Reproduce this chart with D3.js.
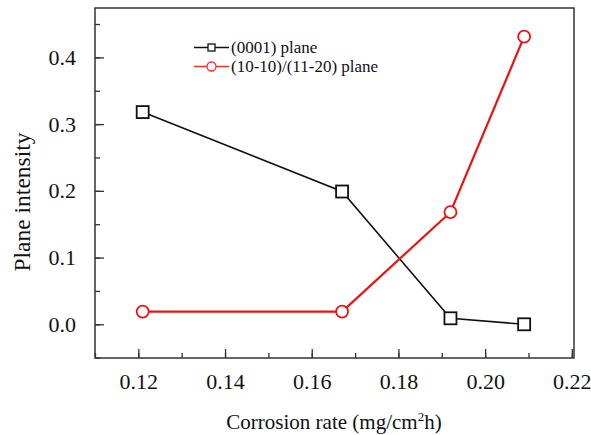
<!DOCTYPE html>
<html><head><meta charset="utf-8">
<script src="https://cdn.jsdelivr.net/npm/d3@7"></script>
<style>body{margin:0;background:#fff}svg{display:block}</style>
</head><body>
<script>
const xRate = [0.121, 0.167, 0.192, 0.209];
const plane0001 = [0.318, 0.199, 0.009, 0.0];
const plane1010 = [0.019, 0.019, 0.168, 0.431];
const xTicks = [0.12, 0.14, 0.16, 0.18, 0.20, 0.22];
const yTicks = [0.0, 0.1, 0.2, 0.3, 0.4];
const seriesNames = ["(0001) plane", "(10-10)/(11-20) plane"];

const FONT = "Liberation Serif, Times New Roman, serif";
const W = 591, H = 435;
const L = 95, T = 8, R = 574, B = 358;
const svg = d3.select("body").append("svg").attr("width", W).attr("height", H)
  .attr("font-family", FONT).attr("fill", "#111");
const x = d3.scaleLinear().domain([0.11, 0.2205]).range([L, R]);
const y = d3.scaleLinear().domain([-0.0505, 0.474]).range([B, T]);

svg.append("rect").attr("x", L).attr("y", T).attr("width", R - L).attr("height", B - T)
  .attr("fill", "none").attr("stroke", "#333").attr("stroke-width", 1.5);

const xMinor = d3.range(0.11, 0.2201, 0.01).map(v => +v.toFixed(3));
const xAx = svg.append("g").attr("transform", `translate(0,${B})`)
  .call(d3.axisBottom(x).tickValues(xMinor).tickSize(-5).tickFormat(""));
xAx.select(".domain").remove();
const xAx2 = svg.append("g").attr("transform", `translate(0,${B})`)
  .call(d3.axisBottom(x).tickValues(xTicks).tickSize(-9).tickPadding(15).tickFormat(d3.format(".2f")))
  .attr("font-family", FONT).attr("font-size", 22);
xAx2.select(".domain").remove();
xAx2.selectAll("text").attr("fill", "#111");

const yMinor = d3.range(-0.05, 0.4501, 0.05).map(v => +v.toFixed(3));
const yAx = svg.append("g").attr("transform", `translate(${L},0)`)
  .call(d3.axisLeft(y).tickValues(yMinor).tickSize(-5).tickFormat(""));
yAx.select(".domain").remove();
const yAx2 = svg.append("g").attr("transform", `translate(${L},0)`)
  .call(d3.axisLeft(y).tickValues(yTicks).tickSize(-9).tickPadding(19).tickFormat(d3.format(".1f")))
  .attr("font-family", FONT).attr("font-size", 22);
yAx2.select(".domain").remove();
yAx2.selectAll("text").attr("fill", "#111");
svg.selectAll(".tick line").attr("stroke", "#333").attr("stroke-width", 1.3);

const xt = svg.append("text").attr("x", 334).attr("y", 429).attr("text-anchor", "middle").attr("font-size", 21);
xt.append("tspan").text("Corrosion rate (mg/cm");
xt.append("tspan").text("2").attr("font-size", 13).attr("dy", -8);
xt.append("tspan").text("h)").attr("dy", 8);
svg.append("text").attr("transform", "translate(30,202) rotate(-90)").attr("text-anchor", "middle")
  .attr("font-size", 23.5).text("Plane intensity");

const pts0 = xRate.map((v, i) => [v, plane0001[i]]);
const pts1 = xRate.map((v, i) => [v, plane1010[i]]);
const line = d3.line().x(d => x(d[0])).y(d => y(d[1]));

svg.append("path").datum(pts0).attr("d", line).attr("fill", "none").attr("stroke", "#111").attr("stroke-width", 1.6);
svg.append("path").datum(pts1).attr("d", line).attr("fill", "none").attr("stroke", "#ee1111").attr("stroke-width", 2.2);

const s = 12;
svg.selectAll(".sq").data(pts0).enter().append("rect")
  .attr("x", d => x(d[0]) - s / 2).attr("y", d => y(d[1]) - s / 2).attr("width", s).attr("height", s)
  .attr("fill", "#fff").attr("stroke", "#111").attr("stroke-width", 1.8);
svg.selectAll(".ci").data(pts1).enter().append("circle")
  .attr("cx", d => x(d[0])).attr("cy", d => y(d[1])).attr("r", 6)
  .attr("fill", "#fff").attr("stroke", "#ee1111").attr("stroke-width", 1.8);

const lg = svg.append("g");
const ly = [47.5, 66.5];
lg.append("line").attr("x1", 194).attr("x2", 229).attr("y1", ly[0]).attr("y2", ly[0]).attr("stroke", "#111").attr("stroke-width", 1.4);
lg.append("rect").attr("x", 208).attr("y", ly[0] - 3.5).attr("width", 7).attr("height", 7).attr("fill", "#fff").attr("stroke", "#111").attr("stroke-width", 1.3);
lg.append("line").attr("x1", 194).attr("x2", 229).attr("y1", ly[1]).attr("y2", ly[1]).attr("stroke", "#ee3322").attr("stroke-width", 1.4);
lg.append("circle").attr("cx", 211.5).attr("cy", ly[1]).attr("r", 4.5).attr("fill", "#fff").attr("stroke", "#ee3322").attr("stroke-width", 1.3);
seriesNames.forEach((n, i) => {
  lg.append("text").attr("x", 231).attr("y", ly[i]).attr("dy", "0.35em").attr("font-size", 17).text(n);
});
</script>
</body></html>
